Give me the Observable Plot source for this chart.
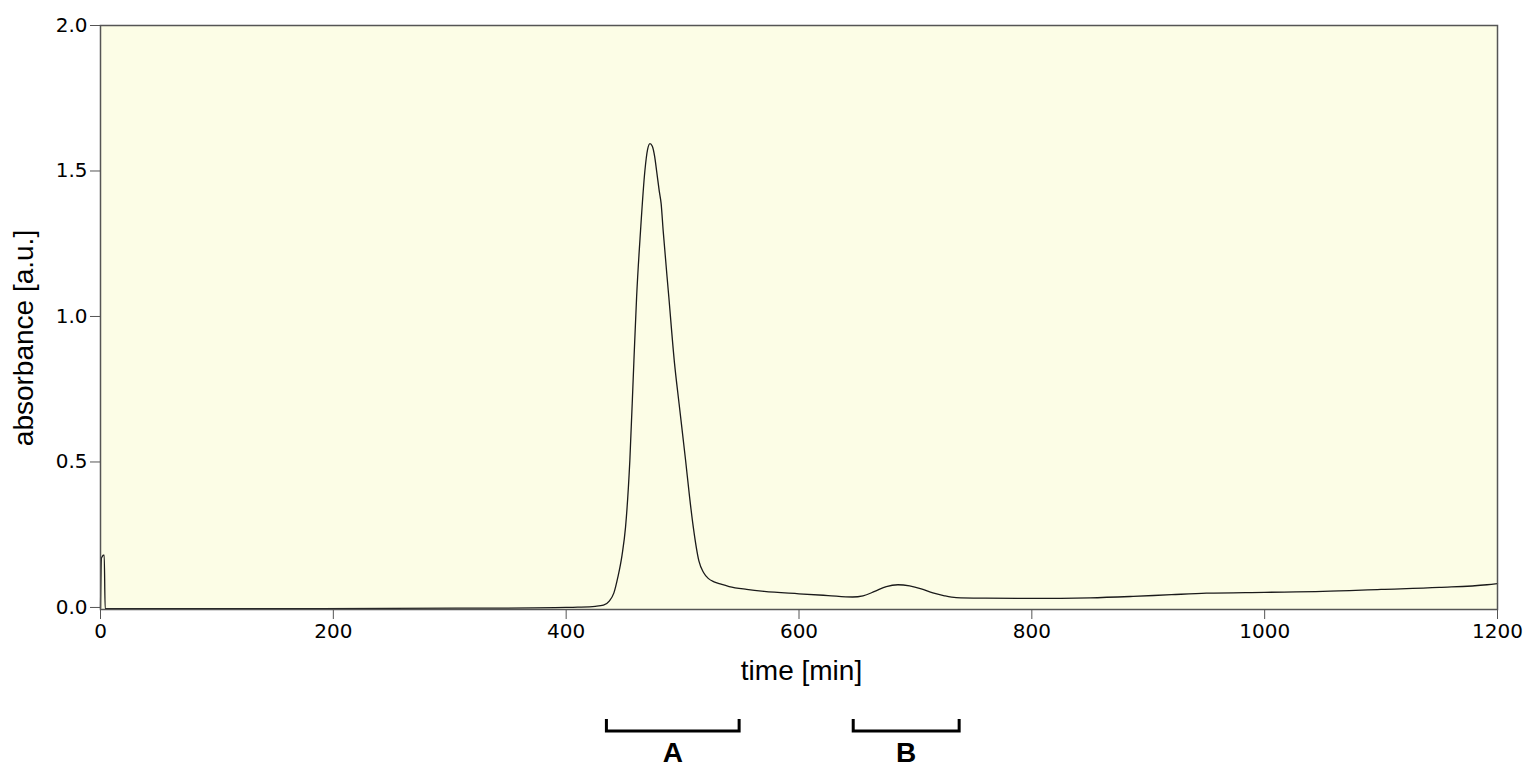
<!DOCTYPE html>
<html>
<head>
<meta charset="utf-8">
<script src="https://cdn.jsdelivr.net/npm/d3@7"></script>
<script src="https://cdn.jsdelivr.net/npm/@observablehq/plot@0.6"></script>
<style>
  html, body { margin: 0; padding: 0; background: #ffffff; }
  #chart { width: 1532px; height: 775px; }
</style>
</head>
<body>
<div id="chart"></div>
<script>
// ---- data ----
const time = [
  0, 0.8, 1.5, 2.5, 3.2, 4, 50, 150, 250, 350, 400, 410, 425, 432, 437, 441, 444.4, 448, 451,
  454.7, 458.2, 460.5, 463.9, 467.6, 470, 472, 474, 476, 477.7, 480, 481.6, 483.3,
  488.2, 493.1, 497, 502.6, 506, 509.2, 514, 518, 522, 527, 533, 540, 555, 570, 600,
  625, 646, 655, 665, 675, 685, 695, 705, 715, 725, 735, 760, 800, 850, 887, 920,
  950, 1000, 1050, 1100, 1150, 1191, 1200
];
const absorbance = [
  -0.003, 0.17, 0.175, 0.18, 0.18, -0.004, -0.004, -0.004, -0.003, -0.002, 0.0, 0.001, 0.004, 0.008, 0.022, 0.05, 0.104, 0.18, 0.276,
  0.505, 0.849, 1.066, 1.296, 1.50, 1.575, 1.594, 1.585, 1.55, 1.50, 1.43, 1.387, 1.296,
  1.066, 0.838, 0.70, 0.505, 0.38, 0.276, 0.16, 0.12, 0.10, 0.088, 0.08, 0.072, 0.062, 0.055, 0.047,
  0.041, 0.036, 0.040, 0.055, 0.072, 0.078, 0.074, 0.064, 0.050, 0.040, 0.034, 0.032, 0.031, 0.033, 0.038, 0.044,
  0.049, 0.052, 0.055, 0.062, 0.069, 0.078, 0.082
];
const xTicks = [0, 200, 400, 600, 800, 1000, 1200];
const yTicks = [0, 0.5, 1.0, 1.5, 2.0];
const bracketLabels = ["A", "B"];
const bracketStart = [435, 647];
const bracketEnd = [549, 738];
const xLabel = "time [min]";
const yLabel = "absorbance [a.u.]";

const trace = time.map((t, i) => ({t, a: absorbance[i]}));
const brackets = bracketLabels.map((label, i) => ({label, start: bracketStart[i], end: bracketEnd[i]}));

// annotation mark: axis titles and fraction brackets, positioned with the plot's x scale
function annotations(index, scales, values, dims) {
  const g = d3.create("svg:g");
  const bottom = dims.height - dims.marginBottom;
  const left = dims.marginLeft;
  const cx = (dims.marginLeft + dims.width - dims.marginRight) / 2;
  const cy = (dims.marginTop + dims.height - dims.marginBottom) / 2;
  g.append("text")
    .attr("x", cx + 3).attr("y", bottom + 71)
    .attr("text-anchor", "middle")
    .attr("font-family", "'Liberation Sans', Arial, sans-serif")
    .attr("font-size", 28).attr("fill", "#000")
    .text(xLabel);
  g.append("text")
    .attr("transform", `translate(${left - 67},${cy + 21}) rotate(-90)`)
    .attr("text-anchor", "middle")
    .attr("font-family", "'Liberation Sans', Arial, sans-serif")
    .attr("font-size", 28).attr("fill", "#000")
    .text(yLabel);
  for (const b of brackets) {
    const x1 = scales.x(b.start), x2 = scales.x(b.end);
    g.append("path")
      .attr("d", `M${x1},${bottom + 110}V${bottom + 122}H${x2}V${bottom + 110}`)
      .attr("fill", "none").attr("stroke", "#000").attr("stroke-width", 3);
    g.append("text")
      .attr("x", (x1 + x2) / 2).attr("y", bottom + 153)
      .attr("text-anchor", "middle")
      .attr("font-family", "'Liberation Sans', Arial, sans-serif")
      .attr("font-weight", "bold")
      .attr("font-size", 28).attr("fill", "#000")
      .text(b.label);
  }
  return g.node();
}

const chart = Plot.plot({
  width: 1532,
  height: 775,
  marginLeft: 100,
  marginRight: 35,
  marginTop: 25,
  marginBottom: 166,
  style: {fontFamily: "'DejaVu Sans', Verdana, sans-serif", color: "#000", background: "#ffffff"},
  x: {domain: [0, 1200]},
  y: {domain: [-0.007, 2.0]},
  marks: [
    Plot.frame({fill: "#fcfde6", stroke: "none"}),
    Plot.line(trace, {x: "t", y: "a", stroke: "#1a1a1a", strokeWidth: 1.3, curve: "monotone-x"}),
    Plot.frame({stroke: "#555", strokeWidth: 1.5}),
    Plot.axisX({ticks: xTicks, tickSize: 10, tickPadding: 4, fontSize: 20, stroke: "#555", label: null, tickFormat: d3.format("d")}),
    Plot.axisY({ticks: yTicks, tickSize: 10, tickPadding: 3, fontSize: 20, stroke: "#555", label: null, tickFormat: d3.format(".1f")}),
    annotations
  ]
});
document.getElementById("chart").appendChild(chart);
</script>
</body>
</html>
